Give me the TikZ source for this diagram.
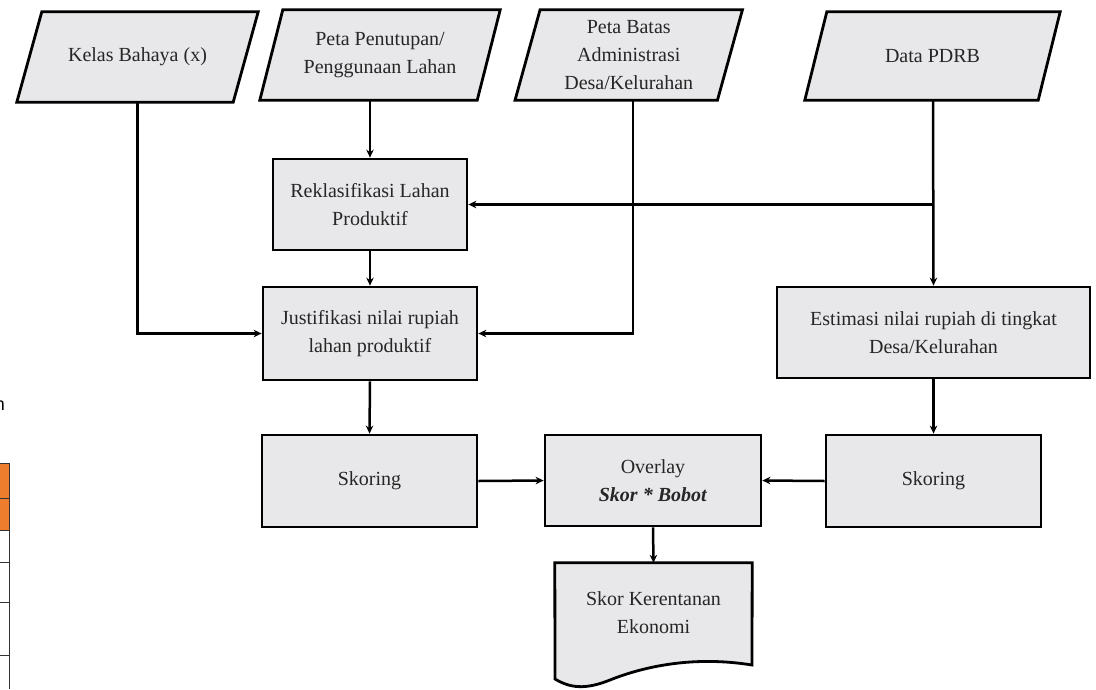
\documentclass[tikz,border=0pt]{standalone}
\usepackage{fontspec}
\setmainfont{Liberation Serif}
\newfontfamily\sidefont{Liberation Sans}
\usetikzlibrary{arrows.meta}
\definecolor{boxgray}{HTML}{E8E8EA}
\definecolor{tblorange}{HTML}{EE7D2E}
\pgfdeclarelayer{bg}
\pgfsetlayers{bg,main}
\newcommand{\fs}{\fontsize{20}{28}\selectfont}
\begin{document}
\begin{tikzpicture}[x=1pt,y=-1pt,
  box/.style={draw=black, line width=2.8pt, fill=boxgray, align=center, font=\fs, inner sep=2pt, text=black!85},
  plain/.style={align=center, font=\fs, inner sep=0pt, text=black!85},
  shapeline/.style={draw=black, line width=2.8pt, fill=boxgray, line join=miter},
  conn/.style={line width=2.5pt, -{Stealth[length=8pt,width=7.5pt]}},
  tbl/.style={draw=black!80, line width=1pt}
]
\useasboundingbox (0,0) rectangle (1096,689);

% ---- left fragments
\fill[tblorange] (0,463) rectangle (9,530);
\draw[tbl] (0,463) -- (9,463);
\draw[tbl] (0,498) -- (9,498);
\draw[tbl] (0,530) -- (9,530);
\draw[tbl] (0,562) -- (9,562);
\draw[tbl] (0,602) -- (9,602);
\draw[tbl] (0,655) -- (9,655);
\draw[tbl] (9,463) -- (9,689);
\node[anchor=base east, inner sep=0pt, font=\sidefont\fontsize{18}{20}\selectfont] (nfrag) at (5,410) {n};

% ---- parallelogram inputs
\node[plain, minimum width=216pt, minimum height=90pt] (kelas) at (137.5,57) {Kelas Bahaya (x)};
\node[plain, minimum width=217pt, minimum height=90pt] (pen) at (380,55) {Peta Penutupan/\\Penggunaan Lahan};
\node[plain, minimum width=202pt, minimum height=90pt] (batas) at (628.75,55) {Peta Batas\\Administrasi\\Desa/Kelurahan};
\node[plain, minimum width=233pt, minimum height=88pt] (pdrb) at (932.5,56) {Data PDRB};

\begin{pgfonlayer}{bg}
  \path[shapeline] ([xshift=12.5pt]kelas.north west) -- ([xshift=12.5pt]kelas.north east)
    -- ([xshift=-12.5pt]kelas.south east) -- ([xshift=-12.5pt]kelas.south west) -- cycle;
  \path[shapeline] ([xshift=11.5pt]pen.north west) -- ([xshift=11.5pt]pen.north east)
    -- ([xshift=-11.5pt]pen.south east) -- ([xshift=-11.5pt]pen.south west) -- cycle;
  \path[shapeline] ([xshift=12.5pt]batas.north west) -- ([xshift=12.5pt]batas.north east)
    -- ([xshift=-12.5pt]batas.south east) -- ([xshift=-12.5pt]batas.south west) -- cycle;
  \path[shapeline] ([xshift=11pt]pdrb.north west) -- ([xshift=11pt]pdrb.north east)
    -- ([xshift=-11pt]pdrb.south east) -- ([xshift=-11pt]pdrb.south west) -- cycle;
\end{pgfonlayer}

% ---- process boxes
\node[box, minimum width=194pt, minimum height=91pt] (reklas) at (370,204.5) {Reklasifikasi Lahan\\Produktif};
\node[box, minimum width=214pt, minimum height=93pt] (just) at (370,333.5) {Justifikasi nilai rupiah\\lahan produktif};
\node[box, minimum width=313pt, minimum height=91pt] (est) at (933.5,332.5) {Estimasi nilai rupiah di tingkat\\Desa/Kelurahan};
\node[box, minimum width=215pt, minimum height=92pt] (skorL) at (369.5,481) {Skoring};
\node[box, minimum width=216pt, minimum height=91pt] (overlay) at (653,480.5) {Overlay\\\textbf{\textit{Skor * Bobot}}};
\node[box, minimum width=215pt, minimum height=92pt] (skorR) at (933.5,481) {Skoring};

% ---- document output
\node[plain, minimum width=197pt, minimum height=100pt] (skor) at (653.5,613) {Skor Kerentanan\\Ekonomi};
\begin{pgfonlayer}{bg}
  \path[shapeline] (skor.north west) -- (skor.north east) -- (752,665)
    .. controls (690,655) and (640,668) .. (610,680)
    .. controls (585,690) and (570,688) .. (555,679) -- cycle;
\end{pgfonlayer}

% ---- connectors
\draw[conn] (kelas.south) |- (just.west);
\draw[conn] (reklas.north |- pen.south) -- (reklas.north);
\draw[conn] (reklas.south) -- (just.north);
\draw[conn] ([xshift=4.25pt]batas.south) |- (just.east);
\draw[conn] ([xshift=0.5pt]pdrb.south) -- (est.north);
\draw[conn] (est.north |- reklas.east) -- (reklas.east);
\draw[conn] (just.south) -- (skorL.north);
\draw[conn] (est.south) -- (skorR.north);
\draw[conn] (skorL.east) -- (overlay.west);
\draw[conn] (skorR.west) -- (overlay.east);
\draw[conn] (overlay.south) -- (skor.north);
\end{tikzpicture}
\end{document}
